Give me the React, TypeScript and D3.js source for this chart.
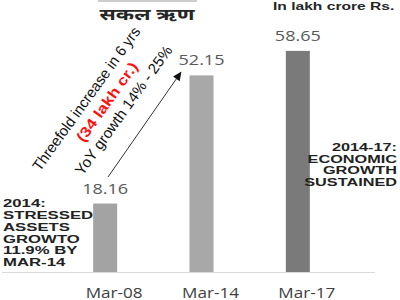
import React from "react";
import * as d3 from "d3";

const categories = ["Mar-08", "Mar-14", "Mar-17"];
const values = [18.16, 52.15, 58.65];
const barColors = ["#a3a3a3", "#a8a8a8", "#7a7a7a"];
const title = "सकल ऋण";
const unitNote = "In lakh crore Rs.";
const leftNote = ["2014:", "STRESSED", "ASSETS", "GROWTO", "11.9% BY", "MAR-14"];
const rightNote = ["2014-17:", "ECONOMIC", "GROWTH", "SUSTAINED"];
const slantLines = ["Threefold increase in 6 yrs", "(34 lakh cr.)", "YoY growth 14% - 25%"];

const W = 400;
const H = 300;
const SX = 1.55; // horizontal stretch seen in the reference

export default function App() {
  const x = d3.scaleBand<string>().domain(categories).range([66, 355]).padding(0);
  const y = d3.scaleLinear().domain([0, 60]).range([272, 45.8]);
  const barW = 24;
  const barOff = -21; // bar left relative to band centre
  const calibri = "'Open Sans', 'DejaVu Sans', sans-serif";
  const arial = "'Liberation Sans', Arial, sans-serif";

  const arrowStart: [number, number] = [108, 177];
  const arrowEnd: [number, number] = [181.5, 71.5];
  const ang = Math.atan2(arrowEnd[1] - arrowStart[1], arrowEnd[0] - arrowStart[0]);
  const headL = 9, headW = 4;
  const bx = arrowEnd[0] - headL * Math.cos(ang);
  const by = arrowEnd[1] - headL * Math.sin(ang);
  const px = -Math.sin(ang), py = Math.cos(ang);
  const head = d3.line()([
    arrowEnd,
    [bx + px * headW, by + py * headW],
    [bx - px * headW, by - py * headW],
  ]) + "Z";

  return (
    <svg width={W} height={H} style={{ position: "absolute", left: 0, top: 0, background: "#fff" }}>
      <rect width={W} height={H} fill="#fff" />
      {/* title */}
      <line x1={98} x2={197} y1={1} y2={1} stroke="#9a9a9a" strokeWidth={1} />
      <text x={147} y={19.5} textAnchor="middle" fontFamily="'Noto Sans', sans-serif" fontWeight="bold"
        fontSize={16.5} fill="#262626" textLength={95} lengthAdjust="spacingAndGlyphs">{title}</text>
      <text transform={`translate(273,9.5) scale(1.5,1)`} fontFamily={arial} fontWeight="bold"
        fontSize={10.4} fill="#262626">{unitNote}</text>

      {/* axis line */}
      <line x1={2} x2={375} y1={272.5} y2={272.5} stroke="#d9d9d9" strokeWidth={1} />

      {/* bars */}
      {categories.map((c, i) => {
        const cx = (x(c) as number) + x.bandwidth() / 2;
        const bl = cx + barOff;
        return (
          <g key={c}>
            <rect x={bl} y={y(values[i])} width={barW} height={y(0) - y(values[i])} fill={barColors[i]} />
            <text x={bl + barW / 2} y={y(values[i]) - 10} textAnchor="middle" fontFamily={calibri}
              fontSize={14} fill="#595959" textLength={46} lengthAdjust="spacingAndGlyphs">
              {values[i].toFixed(2)}
            </text>
            <text x={cx} y={297.5} textAnchor="middle" fontFamily={calibri} fontSize={14.5}
              fill="#404040" textLength={57} lengthAdjust="spacingAndGlyphs">{c}</text>
          </g>
        );
      })}

      {/* left note */}
      {leftNote.map((t, i) => (
        <text key={t} transform={`translate(3,${207.3 + i * 11.75}) scale(${SX},1)`} fontFamily={arial}
          fontWeight="bold" fontSize={10.8} fill="#222">{t}</text>
      ))}
      {/* right note */}
      {rightNote.map((t, i) => (
        <text key={t} transform={`translate(397,${151 + i * 11.5}) scale(${SX},1)`} textAnchor="end"
          fontFamily={arial} fontWeight="bold" fontSize={10.5} fill="#222">{t}</text>
      ))}

      {/* slanted annotation */}
      <g transform="translate(40,172) rotate(-54.3)" fontFamily={arial}>
        <text x={0} y={0} fontSize={15} fill="#111" textLength={173} lengthAdjust="spacingAndGlyphs">{slantLines[0]}</text>
        <text x={49} y={18.5} fontSize={14.5} fontWeight="bold" fill="#ff1010" textLength={94} lengthAdjust="spacingAndGlyphs">{slantLines[1]}</text>
        <text x={21.5} y={37} fontSize={15} fill="#111" textLength={155} lengthAdjust="spacingAndGlyphs">{slantLines[2]}</text>
      </g>

      {/* arrow */}
      <line x1={arrowStart[0]} y1={arrowStart[1]} x2={bx} y2={by} stroke="#333" strokeWidth={1} />
      <path d={head} fill="#111" />
    </svg>
  );
}
